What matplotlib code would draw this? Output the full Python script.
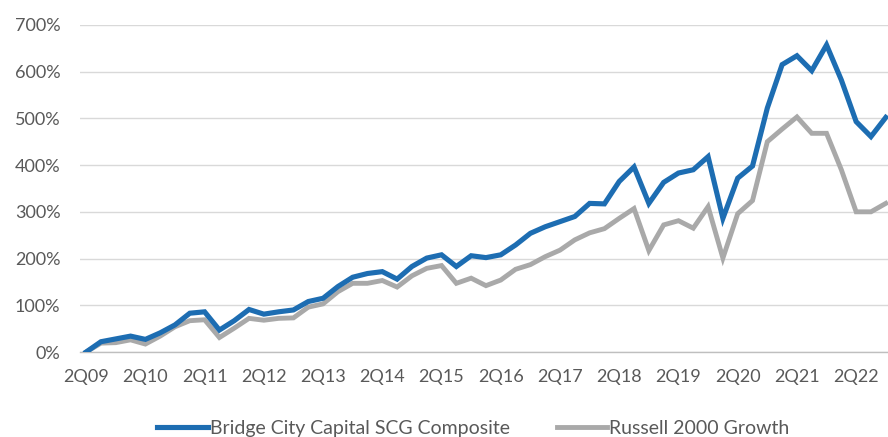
import matplotlib
matplotlib.use("Agg")
import matplotlib.pyplot as plt
from matplotlib.ticker import FuncFormatter

# -------------------------
# DATA (cumulative return, %)
# -------------------------
quarters = [f"{q}Q{y:02d}" for y in range(9, 23) for q in (1, 2, 3, 4)][1:]  # 2Q09 .. 4Q22

bridge_city = [0, 22, 28, 34, 27, 41, 58, 83, 86, 47, 67, 91, 81, 86, 90, 108,
               115, 140, 160, 168, 172, 156, 183, 201, 208, 183, 206, 202, 208, 229,
               254, 268, 279, 290, 318, 317, 365, 396, 318, 363, 383, 390, 418, 286,
               372, 398, 522, 615, 634, 602, 657, 582, 493, 461, 502]

russell_2000g = [0, 19, 20, 26, 17, 34, 54, 67, 69, 31, 51, 72, 68, 72, 73, 96,
                 103, 129, 147, 147, 153, 139, 163, 179, 185, 147, 158, 142, 154, 177,
                 187, 204, 218, 240, 255, 264, 286, 307, 217, 272, 281, 265, 311, 201,
                 296, 324, 450, 477, 503, 468, 468, 390, 300, 300, 318]

y_ticks = [0, 100, 200, 300, 400, 500, 600, 700]

# -------------------------
# PLOT
# -------------------------
plt.rcParams["font.family"] = ["Lato", "DejaVu Sans"]
text_color = "#595959"

fig = plt.figure(figsize=(8.88, 4.37), dpi=100)
ax = fig.add_axes([0.090, 0.1945, 0.910, 0.7485])

x = list(range(len(quarters)))
ax.plot(x, russell_2000g, color="#a9a9a9", linewidth=3.5,
        solid_joinstyle="miter", label="Russell 2000 Growth", zorder=3)
ax.plot(x, bridge_city, color="#1d6db2", linewidth=3.7,
        solid_joinstyle="miter", label="Bridge City Capital SCG Composite", zorder=4)

ax.set_ylim(0, 700)
ax.set_xlim(-0.42, 54.15)
ax.set_yticks(y_ticks)
ax.yaxis.set_major_formatter(FuncFormatter(lambda v, p: f"{v:.0f}%"))
tick_idx = x[::4]
ax.set_xticks(tick_idx)
ax.set_xticklabels([quarters[i] for i in tick_idx])

ax.grid(axis="y", color="#d9d9d9", linewidth=1.0)
ax.set_axisbelow(True)
for s in ("left", "right", "top"):
    ax.spines[s].set_visible(False)
ax.spines["bottom"].set_color("#bfbfbf")
ax.spines["bottom"].set_linewidth(1.0)
ax.tick_params(axis="both", length=0, labelsize=13, labelcolor=text_color)
ax.tick_params(axis="x", pad=12)
ax.tick_params(axis="y", pad=14)

handles, labels = ax.get_legend_handles_labels()
leg = fig.legend(handles[::-1], labels[::-1], loc="center", bbox_to_anchor=(0.533, 0.02),
                 ncol=2, frameon=False, fontsize=14, handlelength=2.6,
                 handletextpad=0.1, columnspacing=2.4)
for t in leg.get_texts():
    t.set_color(text_color)

fig.savefig("out.png", dpi=100)
